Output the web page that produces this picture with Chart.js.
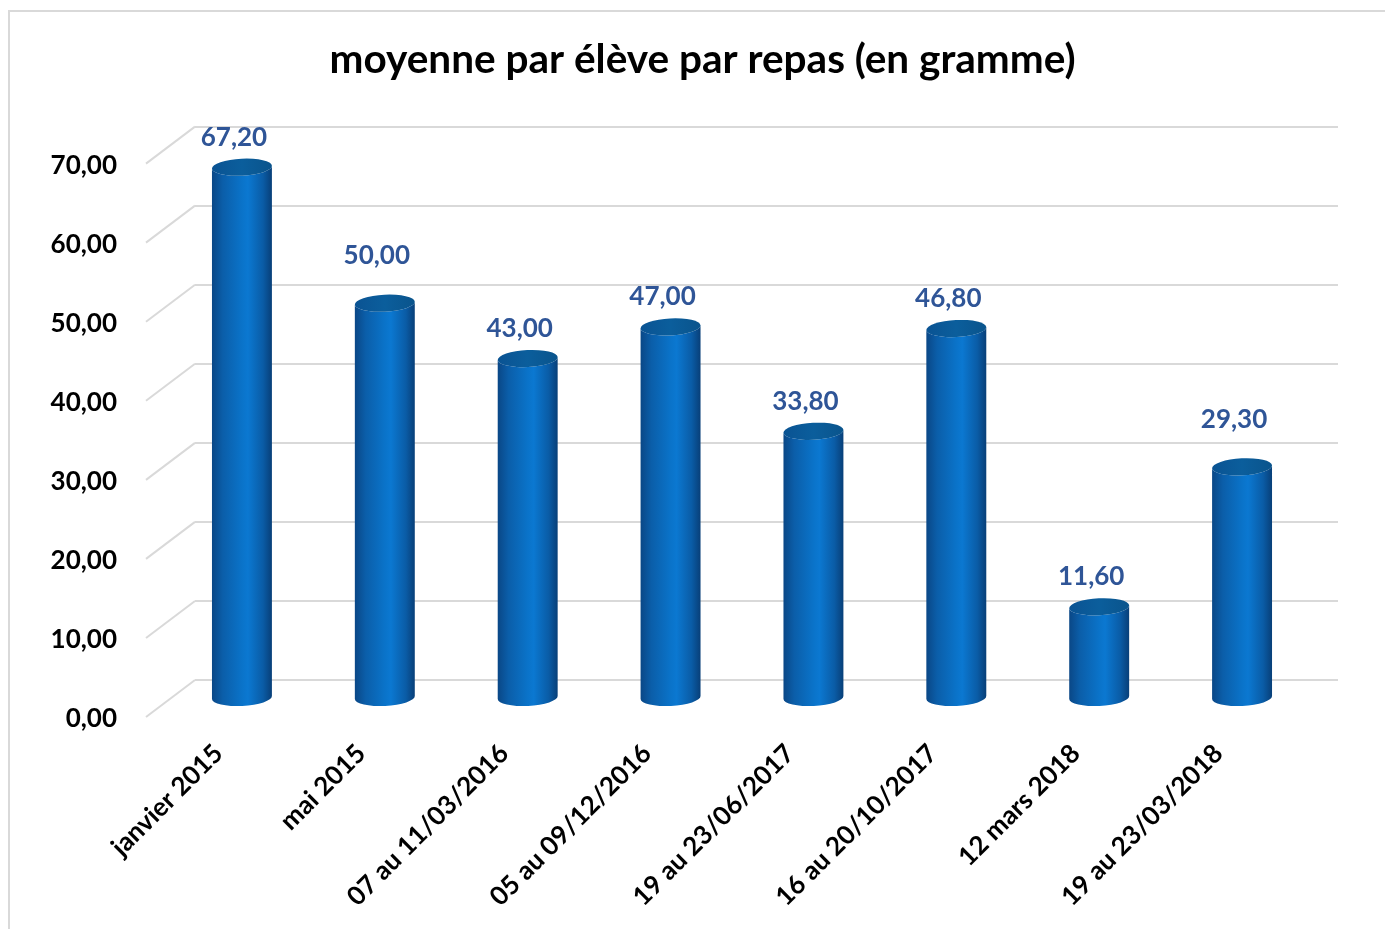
<!DOCTYPE html>
<html>
<head>
<meta charset="utf-8">
<script src="https://cdn.jsdelivr.net/npm/chart.js@4.4.1/dist/chart.umd.min.js"></script>
<style>
  html, body { margin: 0; padding: 0; background: #fff; overflow: hidden; }
  #frame { position: absolute; left: 8px; top: 10px; width: 1400px; height: 1000px;
           border-top: 2px solid #d9d9d9; border-left: 2px solid #d9d9d9; }
  #wrap { position: absolute; left: 0; top: 0; width: 1385px; height: 929px; }
</style>
</head>
<body>
<div id="frame"></div>
<div id="wrap"><canvas id="chart"></canvas></div>
<script>
// données
const categories = ['janvier 2015', 'mai 2015', '07 au 11/03/2016', '05 au 09/12/2016',
  '19 au 23/06/2017', '16 au 20/10/2017', '12 mars 2018', '19 au 23/03/2018'];
const moyennes = [67.2, 50.0, 43.0, 47.0, 33.8, 46.8, 11.6, 29.3];
const yTicks = [0, 10, 20, 30, 40, 50, 60, 70];

const FONT = 'Lato, "Open Sans", sans-serif';
const DEPTH_X = -49, DEPTH_Y = 37;   // profondeur 3D (mur du fond -> avant)
// étiquettes déplacées à la main dans l'original (2e et dernière)
const LABEL_LIFT = [0, 18, 0, 0, 0, 0, 0, 17];

const fmt = v => v.toFixed(2).replace('.', ',');

// lignes diagonales du sol / des graduations
const depthGrid = {
  id: 'depthGrid',
  beforeDatasetsDraw(chart) {
    const { ctx, chartArea, scales } = chart;
    ctx.save();
    ctx.strokeStyle = '#d9d9d9';
    ctx.lineWidth = 2;
    yTicks.forEach(t => {
      const y = scales.y.getPixelForValue(t);
      ctx.beginPath();
      ctx.moveTo(chartArea.left, y);
      ctx.lineTo(chartArea.left + DEPTH_X, y + DEPTH_Y);
      ctx.stroke();
    });
    ctx.restore();
  }
};

// cylindres + étiquettes de valeurs
const cylinders = {
  id: 'cylinders',
  afterDatasetsDraw(chart) {
    const { ctx } = chart;
    const meta = chart.getDatasetMeta(0);
    const dx = DEPTH_X / 2, dy = DEPTH_Y / 2;
    const rot = -0.05;
    ctx.save();
    meta.data.forEach((bar, i) => {
      const cx = bar.x + dx;
      const top = bar.y + dy;
      const base = bar.base + dy;
      const rx = bar.width / 2;
      const ry = 8.5;

      const grad = ctx.createLinearGradient(cx - rx, 0, cx + rx, 0);
      grad.addColorStop(0, '#0a4786');
      grad.addColorStop(0.18, '#0b5ea9');
      grad.addColorStop(0.5, '#0a73c9');
      grad.addColorStop(0.6, '#0b78d1');
      grad.addColorStop(0.85, '#0a5ca6');
      grad.addColorStop(1, '#083f78');

      const lx = cx - rx * Math.cos(rot), ly = -rx * Math.sin(rot);
      const rxp = cx + rx * Math.cos(rot), rly = rx * Math.sin(rot);

      ctx.beginPath();
      ctx.moveTo(lx, top + ly);
      ctx.lineTo(lx, base + ly);
      ctx.ellipse(cx, base, rx, ry, rot, Math.PI, 0, true);
      ctx.lineTo(rxp, top + rly);
      ctx.ellipse(cx, top, rx, ry, rot, 0, Math.PI, false);
      ctx.closePath();
      ctx.fillStyle = grad;
      ctx.fill();

      const topGrad = ctx.createLinearGradient(cx - rx, 0, cx + rx, 0);
      topGrad.addColorStop(0, '#0a5393');
      topGrad.addColorStop(0.5, '#0b5e9c');
      topGrad.addColorStop(1, '#0a548c');
      ctx.beginPath();
      ctx.ellipse(cx, top, rx, ry, rot, 0, Math.PI * 2);
      ctx.fillStyle = topGrad;
      ctx.fill();

      ctx.fillStyle = '#2f5597';
      ctx.font = 'bold 26px ' + FONT;
      ctx.textAlign = 'center';
      ctx.textBaseline = 'middle';
      ctx.fillText(fmt(moyennes[i]), cx - 8, top - 30 - LABEL_LIFT[i]);
    });
    ctx.restore();
  }
};

new Chart(document.getElementById('chart'), {
  type: 'bar',
  data: {
    labels: categories,
    datasets: [{
      data: moyennes,
      backgroundColor: 'rgba(0,0,0,0)',
      borderWidth: 0,
      categoryPercentage: 1,
      barPercentage: 0.42
    }]
  },
  options: {
    responsive: true,
    maintainAspectRatio: false,
    animation: false,
    layout: { padding: { left: 20, right: 0, top: 0, bottom: 0 } },
    plugins: {
      legend: { display: false },
      tooltip: { enabled: false },
      title: {
        display: true,
        text: 'moyenne par élève par repas (en gramme)',
        color: '#000',
        font: { family: FONT, size: 40.5, weight: 'bold' },
        padding: { top: 36, bottom: 42 }
      }
    },
    scales: {
      x: {
        grid: { display: false },
        border: { display: false },
        afterFit: s => { s.height = 249; },
        ticks: {
          color: '#000',
          font: { family: FONT, size: 26, weight: 'bold' },
          minRotation: 45,
          maxRotation: 45,
          autoSkip: false,
          labelOffset: -48,
          padding: 50
        }
      },
      y: {
        min: 0,
        max: 70,
        afterFit: s => { s.width = 175; },
        border: { display: false },
        grid: { color: '#d9d9d9', lineWidth: 2, drawTicks: false },
        ticks: {
          stepSize: 10,
          color: '#000',
          font: { family: FONT, size: 26, weight: 'bold' },
          padding: 78,
          labelOffset: 39,
          callback: v => fmt(v)
        }
      },
      // marge droite du cadre
      y2: {
        position: 'right',
        min: 0,
        max: 70,
        grid: { display: false },
        border: { display: false },
        ticks: { display: false },
        afterFit: s => { s.width = 47; }
      }
    }
  },
  plugins: [depthGrid, cylinders]
});
</script>
</body>
</html>
